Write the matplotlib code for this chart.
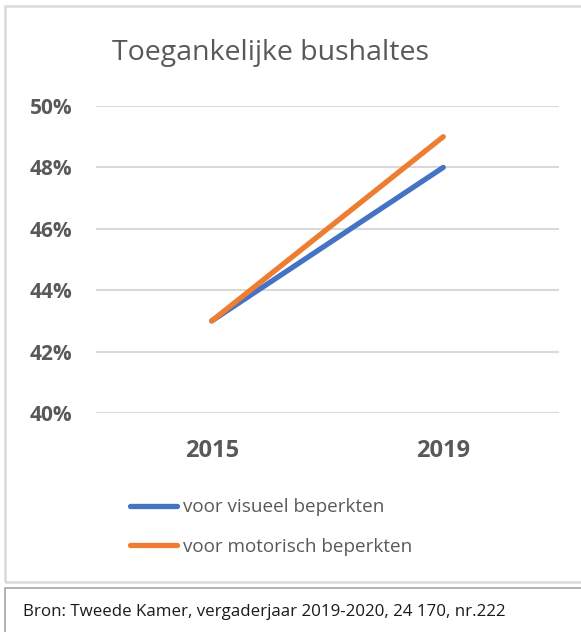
import matplotlib.pyplot as plt
from matplotlib.patches import Rectangle
from matplotlib.ticker import FuncFormatter

years = ["2015", "2019"]
visueel = [43, 48]
motorisch = [43, 49]
series_labels = ["voor visueel beperkten", "voor motorisch beperkten"]
yticks = [40, 42, 44, 46, 48, 50]

W, H = 581, 632
plt.rcParams['font.family'] = ['Open Sans', 'DejaVu Sans']
grey = '#595959'

fig = plt.figure(figsize=(W / 100, H / 100), dpi=100)

# chart frame and source box (figure pixel coords)
def px(x0, y0, x1, y1):
    return (x0 / W, 1 - y1 / H), (x1 - x0) / W, (y1 - y0) / H

xy, w, h = px(5, 6, 590, 582)
fig.patches.append(Rectangle(xy, w, h, transform=fig.transFigure, fill=False,
                             edgecolor='#d9d9d9', lw=1.8))
xy, w, h = px(5, 588, 590, 640)
fig.patches.append(Rectangle(xy, w, h, transform=fig.transFigure, fill=False,
                             edgecolor='#a6a6a6', lw=1.2))

ax = fig.add_axes([96 / W, 1 - 413 / H, (559 - 96) / W, (413 - 106) / H])
x = range(len(years))
l1, = ax.plot(x, visueel, color='#4472c4', lw=3.8, solid_capstyle='round')
l2, = ax.plot(x, motorisch, color='#ed7d31', lw=3.8, solid_capstyle='round')

ax.set_xlim(-0.5, 1.5)
ax.set_ylim(40, 50)
ax.set_yticks(yticks)
ax.yaxis.set_major_formatter(FuncFormatter(lambda v, p: f"{v:.0f}%"))
ax.set_xticks(list(x))
ax.set_xticklabels(years)
ax.grid(axis='y', color='#d9d9d9', lw=1.5)
ax.set_axisbelow(True)
for s in ax.spines.values():
    s.set_visible(False)
ax.tick_params(length=0, labelcolor=grey)
ax.tick_params(axis='y', pad=17, labelsize=15)
ax.tick_params(axis='x', pad=19, labelsize=17)
for t in ax.get_xticklabels() + ax.get_yticklabels():
    t.set_fontweight('bold')

fig.text(270 / W, 1 - 53 / H, "Toegankelijke bushaltes", ha='center', va='center',
         fontsize=20.5, color=grey)

fig.legend([l1, l2], series_labels, loc='center', bbox_to_anchor=(271 / W, 1 - 527 / H),
           frameon=False, fontsize=13.6, labelcolor=grey, handlelength=2.5,
           handletextpad=0.3, labelspacing=1.15)

fig.text(23 / W, 1 - 612 / H, "Bron: Tweede Kamer, vergaderjaar 2019-2020, 24 170, nr.222",
         ha='left', va='center', fontsize=12.2, color='#1a1a1a')

fig.savefig('out.png', dpi=100)
